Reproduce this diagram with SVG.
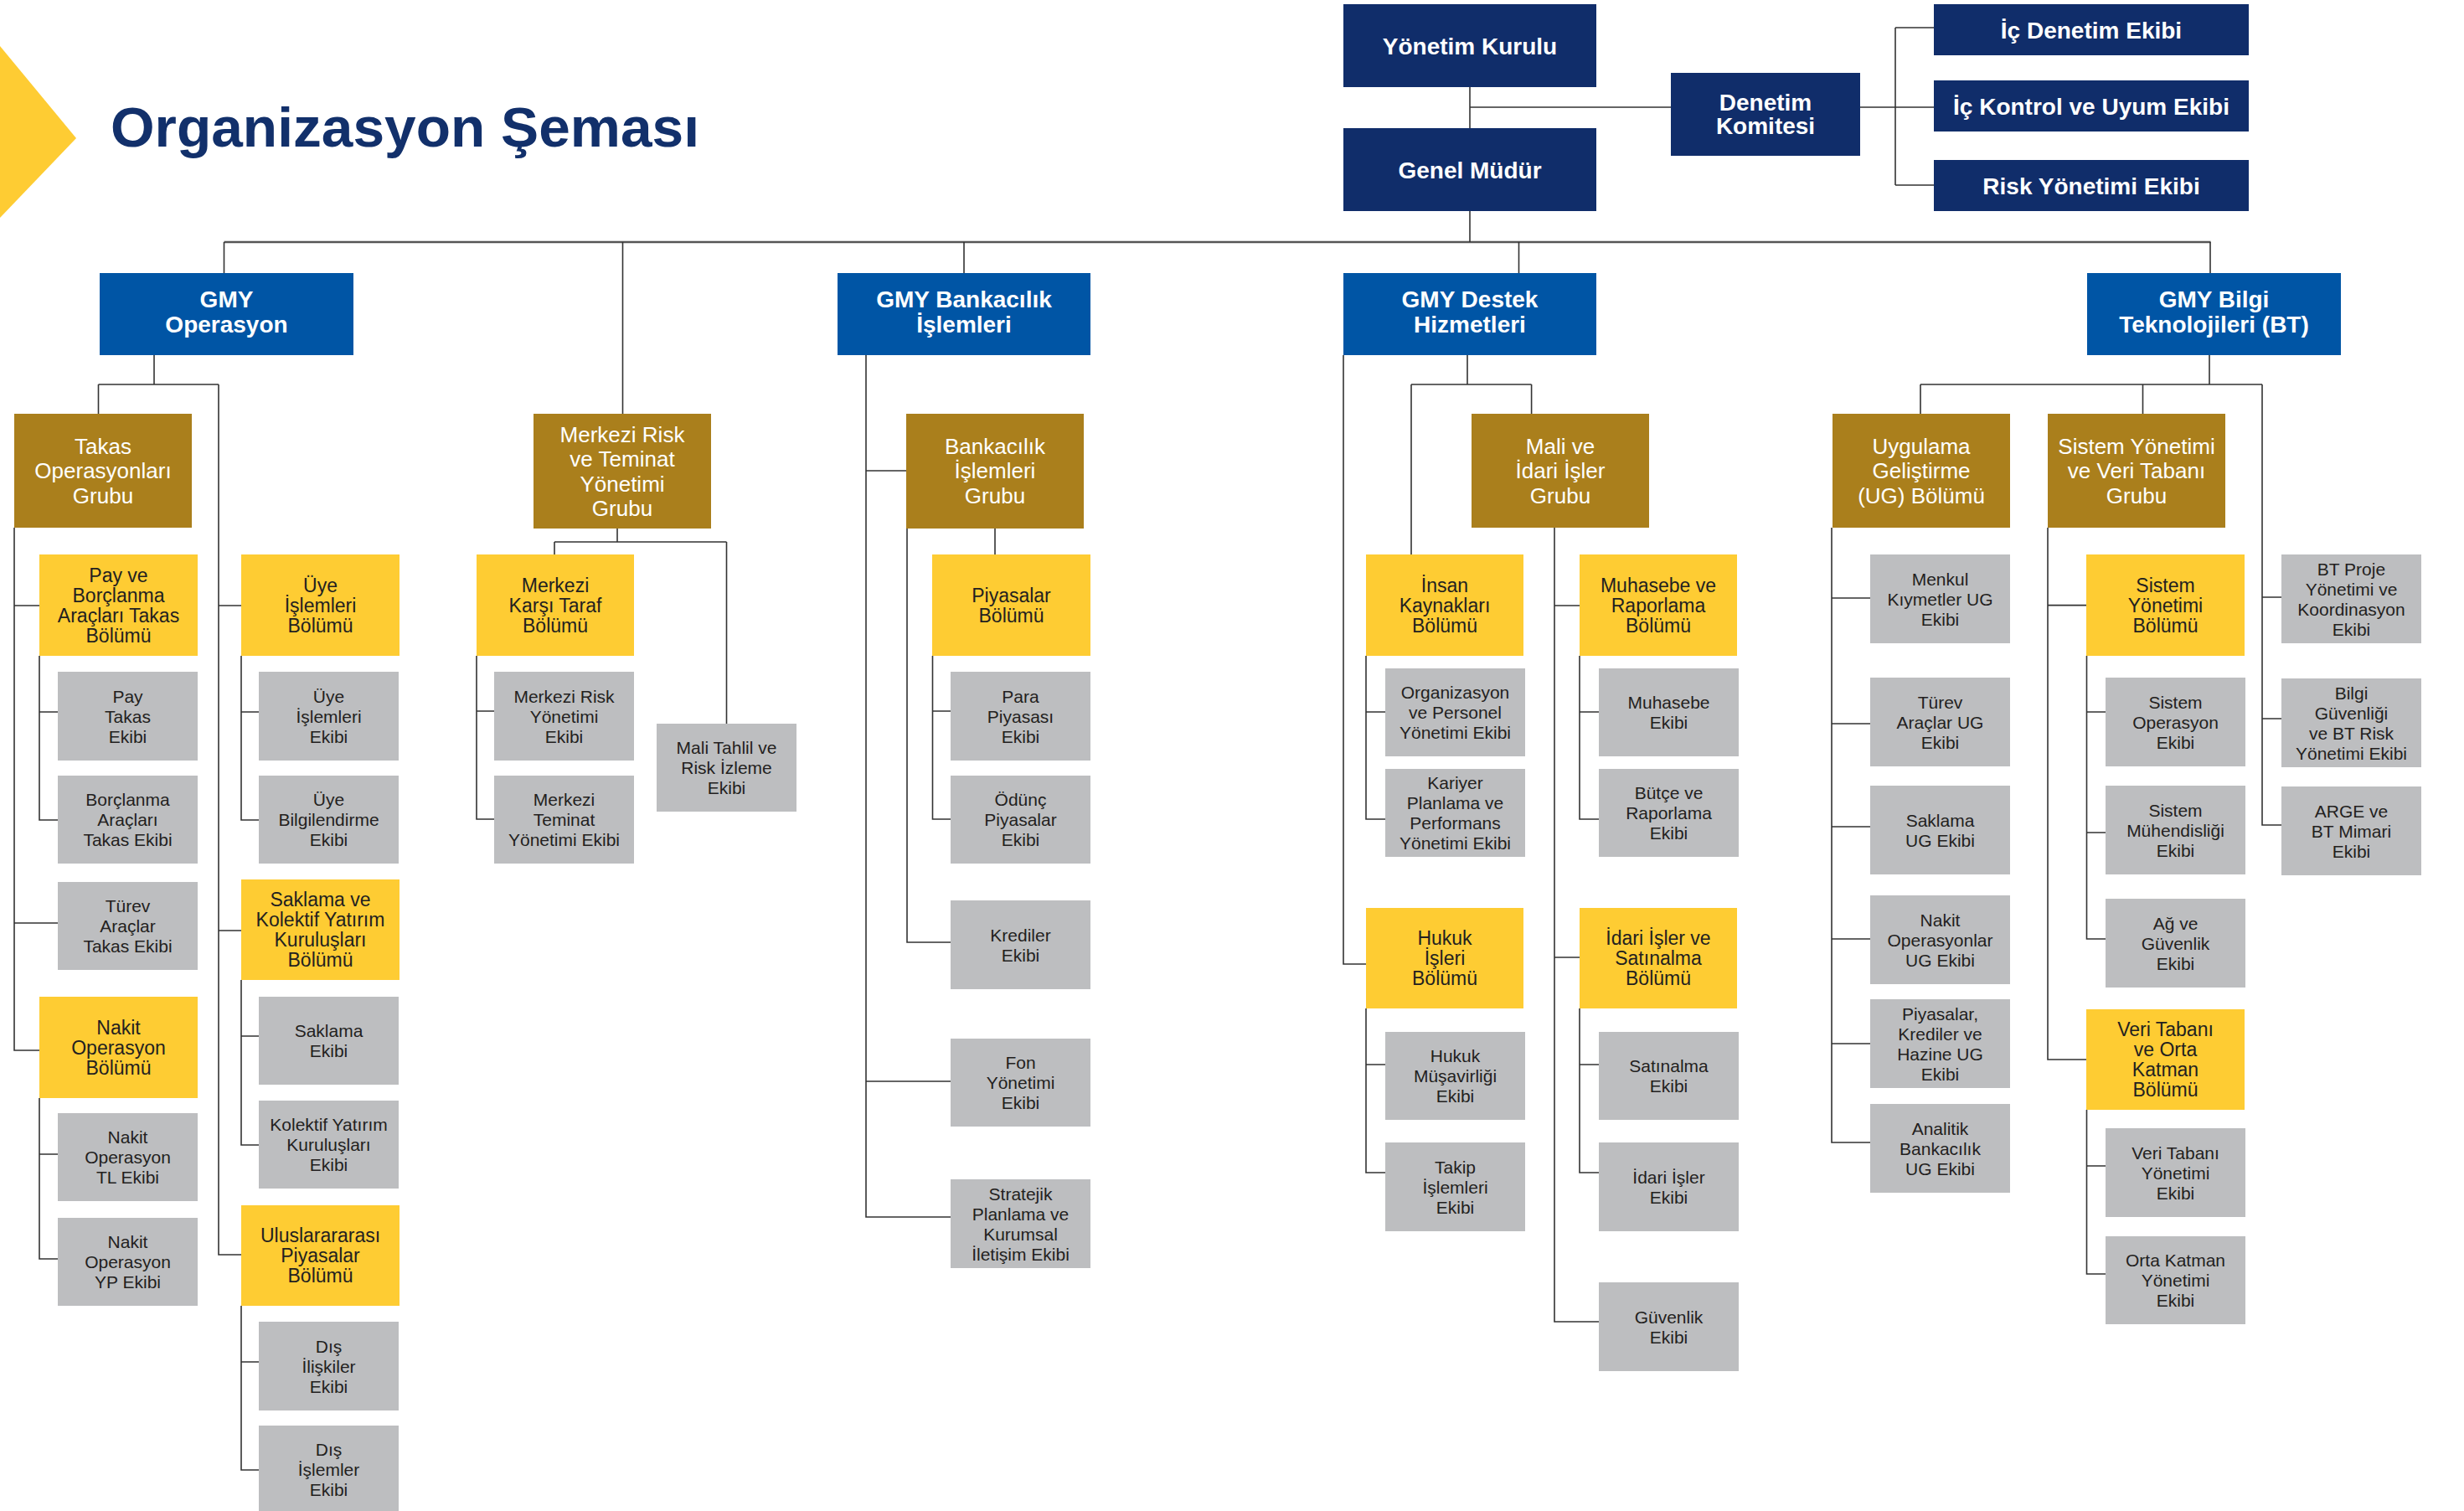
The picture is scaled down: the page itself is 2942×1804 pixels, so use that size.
<svg xmlns="http://www.w3.org/2000/svg" width="2942" height="1804" viewBox="0 0 2942 1804">
<style>
.nv{fill:#102d6a}.bl{fill:#0055a5}.gd{fill:#aa7f1c}.yl{fill:#fecc33}.gr{fill:#bdbec0}
text{font-family:"Liberation Sans",Arial,sans-serif;text-anchor:middle}
.tn{fill:#fff;font-weight:bold;font-size:28px}
.tb{fill:#fff;font-weight:bold;font-size:28px}
.tg{fill:#fff;font-size:26px}
.ty{fill:#231f20;font-size:23px}
.tr{fill:#231f20;font-size:21px}
.c{fill:none;stroke:#333;stroke-width:1.6}
.bar{fill:none;stroke:#555;stroke-width:2.6}
</style>
<rect width="2942" height="1804" fill="#fff"/>
<polygon points="0,55 91,165 0,260" fill="#fecc33"/>
<text x="132" y="175" style="font-size:66px;font-weight:bold;fill:#12306b;text-anchor:start" textLength="703" lengthAdjust="spacingAndGlyphs">Organizasyon Şeması</text>

<g id="connectors">
<path class="bar" d="M267.5 289H2639.6"/>
<path class="c" d="M1755 104V153M1755 252V289M1755 128H1995M2221 128H2309M2263 33V221M2263 33H2309M2263 221H2309"/>
<path class="c" d="M267.5 289V326M743.5 289V494M1151 289V326M1813.5 289V326M2639 289V326"/>
<path class="c" d="M184 424V459M117.5 459H261M117.5 459V494M261 459V1498H288M261 723H288M261 1111H288"/>
<path class="c" d="M17 630V1254H47M17 723H47M17 1102H69M47 783V979H69M47 850H69M47 1311V1503H69M47 1378H69"/>
<path class="c" d="M288 783V979H309M288 850H309M288 1170V1367H309M288 1237H309M288 1559V1755H309M288 1626H309"/>
<path class="c" d="M737 631V647M662 647H867.5M662 647V662M867.5 647V864M569 783V978H590M569 849H590"/>
<path class="c" d="M1034 424V1453H1135M1034 562H1082M1034 1291H1135M1188 631V662M1083 631V1125H1135M1113.5 783V978H1135M1113.5 849H1135"/>
<path class="c" d="M1604 424V1151H1631M1752 424V459M1685 459H1828.6M1685 459V662M1828.6 459V494M1856 630V1578H1909M1856 723H1886M1856 1143H1886"/>
<path class="c" d="M1631 783V978H1654M1631 850H1654M1886 783V978H1909M1886 850H1909M1631 1204V1400H1654M1631 1271H1654M1886 1204V1400H1909M1886 1271H1909"/>
<path class="c" d="M2638 424V459M2293 459H2701M2293 459V494M2558.5 459V494M2701 459V985H2724M2701 713H2724M2701 858H2724"/>
<path class="c" d="M2187 630V1364H2233M2187 714H2233M2187 864H2233M2187 987H2233M2187 1121H2233M2187 1246H2233"/>
<path class="c" d="M2445 630V1265H2491M2445 722.6H2491M2491.5 783V1121H2514M2491.5 850H2514M2491.5 994H2514M2491.5 1325V1521H2514M2491.5 1392H2514"/>
</g>

<g id="n-yonetim-kurulu"><rect class="nv" x="1604" y="5" width="302" height="99"/><text class="tn" x="1755" y="64.5">Yönetim Kurulu</text></g>
<g id="n-genel-mudur"><rect class="nv" x="1604" y="153" width="302" height="99"/><text class="tn" x="1755" y="213">Genel Müdür</text></g>
<g id="n-denetim-komitesi"><rect class="nv" x="1995" y="87" width="226" height="99"/><text class="tn"><tspan x="2108" y="132">Denetim</tspan><tspan x="2108" y="160">Komitesi</tspan></text></g>
<g id="n-ic-denetim"><rect class="nv" x="2309" y="5" width="376" height="61"/><text class="tn" x="2497" y="45.5">İç Denetim Ekibi</text></g>
<g id="n-ic-kontrol"><rect class="nv" x="2309" y="96" width="376" height="61"/><text class="tn" x="2497" y="136.5">İç Kontrol ve Uyum Ekibi</text></g>
<g id="n-risk-yonetimi"><rect class="nv" x="2309" y="191" width="376" height="61"/><text class="tn" x="2497" y="231.5">Risk Yönetimi Ekibi</text></g>

<g id="n-gmy-operasyon"><rect class="bl" x="119" y="326" width="303" height="98"/><text class="tb"><tspan x="270.5" y="367">GMY</tspan><tspan x="270.5" y="397">Operasyon</tspan></text></g>
<g id="n-gmy-bankacilik"><rect class="bl" x="1000" y="326" width="302" height="98"/><text class="tb"><tspan x="1151" y="367">GMY Bankacılık</tspan><tspan x="1151" y="397">İşlemleri</tspan></text></g>
<g id="n-gmy-destek"><rect class="bl" x="1604" y="326" width="302" height="98"/><text class="tb"><tspan x="1755" y="367">GMY Destek</tspan><tspan x="1755" y="397">Hizmetleri</tspan></text></g>
<g id="n-gmy-bt"><rect class="bl" x="2492" y="326" width="303" height="98"/><text class="tb"><tspan x="2643.5" y="367">GMY Bilgi</tspan><tspan x="2643.5" y="397">Teknolojileri (BT)</tspan></text></g>

<g id="n-takas-grubu"><rect class="gd" x="17" y="494" width="212" height="136"/><text class="tg"><tspan x="123" y="541.5">Takas</tspan><tspan x="123" y="571">Operasyonları</tspan><tspan x="123" y="600.5">Grubu</tspan></text></g>
<g id="n-merkezi-risk-grubu"><rect class="gd" x="637" y="494" width="212" height="137"/><text class="tg"><tspan x="743" y="527.5">Merkezi Risk</tspan><tspan x="743" y="557">ve Teminat</tspan><tspan x="743" y="586.5">Yönetimi</tspan><tspan x="743" y="616">Grubu</tspan></text></g>
<g id="n-bankacilik-grubu"><rect class="gd" x="1082" y="494" width="212" height="137"/><text class="tg"><tspan x="1188" y="541.5">Bankacılık</tspan><tspan x="1188" y="571">İşlemleri</tspan><tspan x="1188" y="600.5">Grubu</tspan></text></g>
<g id="n-mali-idari-grubu"><rect class="gd" x="1757" y="494" width="212" height="136"/><text class="tg"><tspan x="1863" y="541.5">Mali ve</tspan><tspan x="1863" y="571">İdari İşler</tspan><tspan x="1863" y="600.5">Grubu</tspan></text></g>
<g id="n-ug-bolumu"><rect class="gd" x="2188" y="494" width="212" height="136"/><text class="tg"><tspan x="2294" y="541.5">Uygulama</tspan><tspan x="2294" y="571">Geliştirme</tspan><tspan x="2294" y="600.5">(UG) Bölümü</tspan></text></g>
<g id="n-sistem-grubu"><rect class="gd" x="2445" y="494" width="212" height="136"/><text class="tg"><tspan x="2551" y="541.5">Sistem Yönetimi</tspan><tspan x="2551" y="571">ve Veri Tabanı</tspan><tspan x="2551" y="600.5">Grubu</tspan></text></g>

<g id="n-pay-borc-bolumu"><rect class="yl" x="47" y="662" width="189" height="121"/><text class="ty"><tspan x="141.5" y="694.5">Pay ve</tspan><tspan x="141.5" y="718.5">Borçlanma</tspan><tspan x="141.5" y="742.5">Araçları Takas</tspan><tspan x="141.5" y="766.5">Bölümü</tspan></text></g>
<g id="n-uye-bolumu"><rect class="yl" x="288" y="662" width="189" height="121"/><text class="ty"><tspan x="382.5" y="706.5">Üye</tspan><tspan x="382.5" y="730.5">İşlemleri</tspan><tspan x="382.5" y="754.5">Bölümü</tspan></text></g>
<g id="n-saklama-bolumu"><rect class="yl" x="288" y="1050" width="189" height="120"/><text class="ty"><tspan x="382.5" y="1082">Saklama ve</tspan><tspan x="382.5" y="1106">Kolektif Yatırım</tspan><tspan x="382.5" y="1130">Kuruluşları</tspan><tspan x="382.5" y="1154">Bölümü</tspan></text></g>
<g id="n-nakit-bolumu"><rect class="yl" x="47" y="1190" width="189" height="121"/><text class="ty"><tspan x="141.5" y="1234.5">Nakit</tspan><tspan x="141.5" y="1258.5">Operasyon</tspan><tspan x="141.5" y="1282.5">Bölümü</tspan></text></g>
<g id="n-uluslararasi-bolumu"><rect class="yl" x="288" y="1439" width="189" height="120"/><text class="ty"><tspan x="382.5" y="1483">Uluslarararası</tspan><tspan x="382.5" y="1507">Piyasalar</tspan><tspan x="382.5" y="1531">Bölümü</tspan></text></g>
<g id="n-merkezi-karsi-bolumu"><rect class="yl" x="569" y="662" width="188" height="121"/><text class="ty"><tspan x="663" y="706.5">Merkezi</tspan><tspan x="663" y="730.5">Karşı Taraf</tspan><tspan x="663" y="754.5">Bölümü</tspan></text></g>
<g id="n-piyasalar-bolumu"><rect class="yl" x="1113" y="662" width="189" height="121"/><text class="ty"><tspan x="1207.5" y="718.5">Piyasalar</tspan><tspan x="1207.5" y="742.5">Bölümü</tspan></text></g>
<g id="n-ik-bolumu"><rect class="yl" x="1631" y="662" width="188" height="121"/><text class="ty"><tspan x="1725" y="706.5">İnsan</tspan><tspan x="1725" y="730.5">Kaynakları</tspan><tspan x="1725" y="754.5">Bölümü</tspan></text></g>
<g id="n-muhasebe-bolumu"><rect class="yl" x="1886" y="662" width="188" height="121"/><text class="ty"><tspan x="1980" y="706.5">Muhasebe ve</tspan><tspan x="1980" y="730.5">Raporlama</tspan><tspan x="1980" y="754.5">Bölümü</tspan></text></g>
<g id="n-hukuk-bolumu"><rect class="yl" x="1631" y="1084" width="188" height="120"/><text class="ty"><tspan x="1725" y="1128">Hukuk</tspan><tspan x="1725" y="1152">İşleri</tspan><tspan x="1725" y="1176">Bölümü</tspan></text></g>
<g id="n-idari-bolumu"><rect class="yl" x="1886" y="1084" width="188" height="120"/><text class="ty"><tspan x="1980" y="1128">İdari İşler ve</tspan><tspan x="1980" y="1152">Satınalma</tspan><tspan x="1980" y="1176">Bölümü</tspan></text></g>
<g id="n-sistem-bolumu"><rect class="yl" x="2491" y="662" width="189" height="121"/><text class="ty"><tspan x="2585.5" y="706.5">Sistem</tspan><tspan x="2585.5" y="730.5">Yönetimi</tspan><tspan x="2585.5" y="754.5">Bölümü</tspan></text></g>
<g id="n-veritabani-bolumu"><rect class="yl" x="2491" y="1205" width="189" height="120"/><text class="ty"><tspan x="2585.5" y="1237">Veri Tabanı</tspan><tspan x="2585.5" y="1261">ve Orta</tspan><tspan x="2585.5" y="1285">Katman</tspan><tspan x="2585.5" y="1309">Bölümü</tspan></text></g>

<g id="n-pay-takas"><rect class="gr" x="69" y="802" width="167" height="106"/><text class="tr"><tspan x="152.5" y="838.5">Pay</tspan><tspan x="152.5" y="862.5">Takas</tspan><tspan x="152.5" y="886.5">Ekibi</tspan></text></g>
<g id="n-borc-takas"><rect class="gr" x="69" y="926" width="167" height="105"/><text class="tr"><tspan x="152.5" y="962">Borçlanma</tspan><tspan x="152.5" y="986">Araçları</tspan><tspan x="152.5" y="1010">Takas Ekibi</tspan></text></g>
<g id="n-turev-takas"><rect class="gr" x="69" y="1053" width="167" height="105"/><text class="tr"><tspan x="152.5" y="1089">Türev</tspan><tspan x="152.5" y="1113">Araçlar</tspan><tspan x="152.5" y="1137">Takas Ekibi</tspan></text></g>
<g id="n-nakit-tl"><rect class="gr" x="69" y="1329" width="167" height="105"/><text class="tr"><tspan x="152.5" y="1365">Nakit</tspan><tspan x="152.5" y="1389">Operasyon</tspan><tspan x="152.5" y="1413">TL Ekibi</tspan></text></g>
<g id="n-nakit-yp"><rect class="gr" x="69" y="1454" width="167" height="105"/><text class="tr"><tspan x="152.5" y="1490">Nakit</tspan><tspan x="152.5" y="1514">Operasyon</tspan><tspan x="152.5" y="1538">YP Ekibi</tspan></text></g>
<g id="n-uye-islemleri"><rect class="gr" x="309" y="802" width="167" height="106"/><text class="tr"><tspan x="392.5" y="838.5">Üye</tspan><tspan x="392.5" y="862.5">İşlemleri</tspan><tspan x="392.5" y="886.5">Ekibi</tspan></text></g>
<g id="n-uye-bilgilendirme"><rect class="gr" x="309" y="926" width="167" height="105"/><text class="tr"><tspan x="392.5" y="962">Üye</tspan><tspan x="392.5" y="986">Bilgilendirme</tspan><tspan x="392.5" y="1010">Ekibi</tspan></text></g>
<g id="n-saklama"><rect class="gr" x="309" y="1190" width="167" height="105"/><text class="tr"><tspan x="392.5" y="1238">Saklama</tspan><tspan x="392.5" y="1262">Ekibi</tspan></text></g>
<g id="n-kolektif"><rect class="gr" x="309" y="1314" width="167" height="105"/><text class="tr"><tspan x="392.5" y="1350">Kolektif Yatırım</tspan><tspan x="392.5" y="1374">Kuruluşları</tspan><tspan x="392.5" y="1398">Ekibi</tspan></text></g>
<g id="n-dis-iliskiler"><rect class="gr" x="309" y="1578" width="167" height="106"/><text class="tr"><tspan x="392.5" y="1614.5">Dış</tspan><tspan x="392.5" y="1638.5">İlişkiler</tspan><tspan x="392.5" y="1662.5">Ekibi</tspan></text></g>
<g id="n-dis-islemler"><rect class="gr" x="309" y="1702" width="167" height="104"/><text class="tr"><tspan x="392.5" y="1737.5">Dış</tspan><tspan x="392.5" y="1761.5">İşlemler</tspan><tspan x="392.5" y="1785.5">Ekibi</tspan></text></g>
<g id="n-merkezi-risk-ekibi"><rect class="gr" x="590" y="802" width="167" height="106"/><text class="tr"><tspan x="673.5" y="838.5">Merkezi Risk</tspan><tspan x="673.5" y="862.5">Yönetimi</tspan><tspan x="673.5" y="886.5">Ekibi</tspan></text></g>
<g id="n-merkezi-teminat"><rect class="gr" x="590" y="926" width="167" height="105"/><text class="tr"><tspan x="673.5" y="962">Merkezi</tspan><tspan x="673.5" y="986">Teminat</tspan><tspan x="673.5" y="1010">Yönetimi Ekibi</tspan></text></g>
<g id="n-mali-tahlil"><rect class="gr" x="784" y="864" width="167" height="105"/><text class="tr"><tspan x="867.5" y="900">Mali Tahlil ve</tspan><tspan x="867.5" y="924">Risk İzleme</tspan><tspan x="867.5" y="948">Ekibi</tspan></text></g>
<g id="n-para-piyasasi"><rect class="gr" x="1135" y="802" width="167" height="106"/><text class="tr"><tspan x="1218.5" y="838.5">Para</tspan><tspan x="1218.5" y="862.5">Piyasası</tspan><tspan x="1218.5" y="886.5">Ekibi</tspan></text></g>
<g id="n-odunc"><rect class="gr" x="1135" y="926" width="167" height="105"/><text class="tr"><tspan x="1218.5" y="962">Ödünç</tspan><tspan x="1218.5" y="986">Piyasalar</tspan><tspan x="1218.5" y="1010">Ekibi</tspan></text></g>
<g id="n-krediler"><rect class="gr" x="1135" y="1075" width="167" height="106"/><text class="tr"><tspan x="1218.5" y="1123.5">Krediler</tspan><tspan x="1218.5" y="1147.5">Ekibi</tspan></text></g>
<g id="n-fon"><rect class="gr" x="1135" y="1240" width="167" height="105"/><text class="tr"><tspan x="1218.5" y="1276">Fon</tspan><tspan x="1218.5" y="1300">Yönetimi</tspan><tspan x="1218.5" y="1324">Ekibi</tspan></text></g>
<g id="n-stratejik"><rect class="gr" x="1135" y="1408" width="167" height="106"/><text class="tr"><tspan x="1218.5" y="1432.5">Stratejik</tspan><tspan x="1218.5" y="1456.5">Planlama ve</tspan><tspan x="1218.5" y="1480.5">Kurumsal</tspan><tspan x="1218.5" y="1504.5">İletişim Ekibi</tspan></text></g>
<g id="n-organizasyon"><rect class="gr" x="1654" y="798" width="167" height="105"/><text class="tr"><tspan x="1737.5" y="834">Organizasyon</tspan><tspan x="1737.5" y="858">ve Personel</tspan><tspan x="1737.5" y="882">Yönetimi Ekibi</tspan></text></g>
<g id="n-kariyer"><rect class="gr" x="1654" y="918" width="167" height="105"/><text class="tr"><tspan x="1737.5" y="942">Kariyer</tspan><tspan x="1737.5" y="966">Planlama ve</tspan><tspan x="1737.5" y="990">Performans</tspan><tspan x="1737.5" y="1014">Yönetimi Ekibi</tspan></text></g>
<g id="n-hukuk-musavirligi"><rect class="gr" x="1654" y="1232" width="167" height="105"/><text class="tr"><tspan x="1737.5" y="1268">Hukuk</tspan><tspan x="1737.5" y="1292">Müşavirliği</tspan><tspan x="1737.5" y="1316">Ekibi</tspan></text></g>
<g id="n-takip"><rect class="gr" x="1654" y="1364" width="167" height="106"/><text class="tr"><tspan x="1737.5" y="1400.5">Takip</tspan><tspan x="1737.5" y="1424.5">İşlemleri</tspan><tspan x="1737.5" y="1448.5">Ekibi</tspan></text></g>
<g id="n-muhasebe"><rect class="gr" x="1909" y="798" width="167" height="105"/><text class="tr"><tspan x="1992.5" y="846">Muhasebe</tspan><tspan x="1992.5" y="870">Ekibi</tspan></text></g>
<g id="n-butce"><rect class="gr" x="1909" y="918" width="167" height="105"/><text class="tr"><tspan x="1992.5" y="954">Bütçe ve</tspan><tspan x="1992.5" y="978">Raporlama</tspan><tspan x="1992.5" y="1002">Ekibi</tspan></text></g>
<g id="n-satinalma"><rect class="gr" x="1909" y="1232" width="167" height="105"/><text class="tr"><tspan x="1992.5" y="1280">Satınalma</tspan><tspan x="1992.5" y="1304">Ekibi</tspan></text></g>
<g id="n-idari-isler"><rect class="gr" x="1909" y="1364" width="167" height="106"/><text class="tr"><tspan x="1992.5" y="1412.5">İdari İşler</tspan><tspan x="1992.5" y="1436.5">Ekibi</tspan></text></g>
<g id="n-guvenlik"><rect class="gr" x="1909" y="1531" width="167" height="106"/><text class="tr"><tspan x="1992.5" y="1579.5">Güvenlik</tspan><tspan x="1992.5" y="1603.5">Ekibi</tspan></text></g>
<g id="n-menkul-ug"><rect class="gr" x="2233" y="662" width="167" height="106"/><text class="tr"><tspan x="2316.5" y="698.5">Menkul</tspan><tspan x="2316.5" y="722.5">Kıymetler UG</tspan><tspan x="2316.5" y="746.5">Ekibi</tspan></text></g>
<g id="n-turev-ug"><rect class="gr" x="2233" y="809" width="167" height="106"/><text class="tr"><tspan x="2316.5" y="845.5">Türev</tspan><tspan x="2316.5" y="869.5">Araçlar UG</tspan><tspan x="2316.5" y="893.5">Ekibi</tspan></text></g>
<g id="n-saklama-ug"><rect class="gr" x="2233" y="938" width="167" height="106"/><text class="tr"><tspan x="2316.5" y="986.5">Saklama</tspan><tspan x="2316.5" y="1010.5">UG Ekibi</tspan></text></g>
<g id="n-nakit-ug"><rect class="gr" x="2233" y="1069" width="167" height="106"/><text class="tr"><tspan x="2316.5" y="1105.5">Nakit</tspan><tspan x="2316.5" y="1129.5">Operasyonlar</tspan><tspan x="2316.5" y="1153.5">UG Ekibi</tspan></text></g>
<g id="n-piyasalar-ug"><rect class="gr" x="2233" y="1193" width="167" height="106"/><text class="tr"><tspan x="2316.5" y="1217.5">Piyasalar,</tspan><tspan x="2316.5" y="1241.5">Krediler ve</tspan><tspan x="2316.5" y="1265.5">Hazine UG</tspan><tspan x="2316.5" y="1289.5">Ekibi</tspan></text></g>
<g id="n-analitik-ug"><rect class="gr" x="2233" y="1318" width="167" height="106"/><text class="tr"><tspan x="2316.5" y="1354.5">Analitik</tspan><tspan x="2316.5" y="1378.5">Bankacılık</tspan><tspan x="2316.5" y="1402.5">UG Ekibi</tspan></text></g>
<g id="n-sistem-operasyon"><rect class="gr" x="2514" y="809" width="167" height="106"/><text class="tr"><tspan x="2597.5" y="845.5">Sistem</tspan><tspan x="2597.5" y="869.5">Operasyon</tspan><tspan x="2597.5" y="893.5">Ekibi</tspan></text></g>
<g id="n-sistem-muhendisligi"><rect class="gr" x="2514" y="938" width="167" height="106"/><text class="tr"><tspan x="2597.5" y="974.5">Sistem</tspan><tspan x="2597.5" y="998.5">Mühendisliği</tspan><tspan x="2597.5" y="1022.5">Ekibi</tspan></text></g>
<g id="n-ag-guvenlik"><rect class="gr" x="2514" y="1073" width="167" height="106"/><text class="tr"><tspan x="2597.5" y="1109.5">Ağ ve</tspan><tspan x="2597.5" y="1133.5">Güvenlik</tspan><tspan x="2597.5" y="1157.5">Ekibi</tspan></text></g>
<g id="n-veritabani-yonetimi"><rect class="gr" x="2514" y="1347" width="167" height="106"/><text class="tr"><tspan x="2597.5" y="1383.5">Veri Tabanı</tspan><tspan x="2597.5" y="1407.5">Yönetimi</tspan><tspan x="2597.5" y="1431.5">Ekibi</tspan></text></g>
<g id="n-orta-katman"><rect class="gr" x="2514" y="1476" width="167" height="105"/><text class="tr"><tspan x="2597.5" y="1512">Orta Katman</tspan><tspan x="2597.5" y="1536">Yönetimi</tspan><tspan x="2597.5" y="1560">Ekibi</tspan></text></g>
<g id="n-bt-proje"><rect class="gr" x="2724" y="662" width="167" height="106"/><text class="tr"><tspan x="2807.5" y="686.5">BT Proje</tspan><tspan x="2807.5" y="710.5">Yönetimi ve</tspan><tspan x="2807.5" y="734.5">Koordinasyon</tspan><tspan x="2807.5" y="758.5">Ekibi</tspan></text></g>
<g id="n-bilgi-guvenligi"><rect class="gr" x="2724" y="810" width="167" height="106"/><text class="tr"><tspan x="2807.5" y="834.5">Bilgi</tspan><tspan x="2807.5" y="858.5">Güvenliği</tspan><tspan x="2807.5" y="882.5">ve BT Risk</tspan><tspan x="2807.5" y="906.5">Yönetimi Ekibi</tspan></text></g>
<g id="n-arge"><rect class="gr" x="2724" y="939" width="167" height="106"/><text class="tr"><tspan x="2807.5" y="975.5">ARGE ve</tspan><tspan x="2807.5" y="999.5">BT Mimari</tspan><tspan x="2807.5" y="1023.5">Ekibi</tspan></text></g>
</svg>
